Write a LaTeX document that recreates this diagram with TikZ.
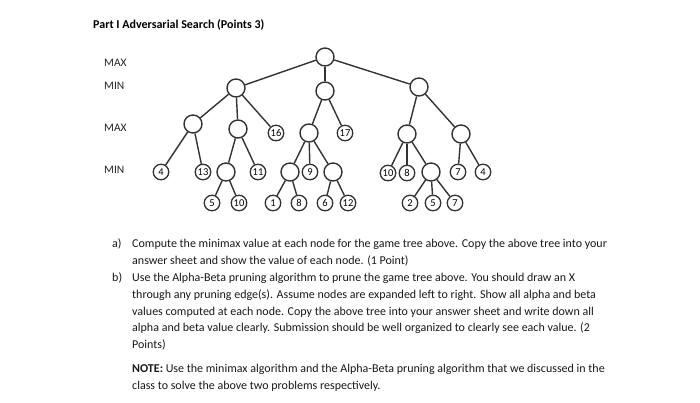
\documentclass[tikz,border=0pt]{standalone}
\usepackage{fontspec}
\setmainfont{Carlito}
\begin{document}
\begin{tikzpicture}[x=1pt,y=-1pt,
  every node/.style={inner sep=0pt},
  emptynode/.style={circle,draw=black!80,line width=1.4pt,minimum size=18pt,fill=white},
  leafnode/.style={circle,draw=black!80,line width=1.3pt,minimum size=15.5pt,font=\fontsize{10.5}{10}\selectfont,fill=white},
  edge/.style={draw=black!80,line width=1.4pt},
  lvl/.style={anchor=west,font=\fontsize{11.5}{12}\selectfont,text=black!85},
  txt/.style={anchor=base west,font=\fontsize{12}{14}\selectfont,text=black!90}]
\useasboundingbox[fill=white] (0,0) rectangle (700,402);
\node[anchor=base west,font=\bfseries\fontsize{12}{14}\selectfont] (title) at (93,28) {Part I Adversarial Search (Points 3)};
\node[lvl] (l1) at (104,63) {MAX};
\node[lvl] (l2) at (104,86) {MIN};
\node[lvl] (l3) at (104,128) {MAX};
\node[lvl] (l4) at (104,170) {MIN};
% tree
\node[emptynode] (r) at (325,57) {};
\node[emptynode] (m1) at (236,88) {};
\node[emptynode] (m2) at (325,91) {};
\node[emptynode] (m3) at (419,87) {};
\node[emptynode] (a1) at (193,124) {};
\node[emptynode] (a2) at (238,129) {};
\node[leafnode] (a3) at (276,133) {16};
\node[emptynode] (a4) at (309,133) {};
\node[leafnode] (a5) at (345,133) {17};
\node[emptynode] (a6) at (407,134) {};
\node[emptynode] (a7) at (461,134) {};
\node[leafnode] (b1) at (161,172) {4};
\node[leafnode] (b2) at (203,172) {13};
\node[emptynode] (b3) at (226,172) {};
\node[leafnode] (b4) at (258,172) {11};
\node[emptynode] (b5) at (290,172) {};
\node[leafnode] (b6) at (310,172) {9};
\node[emptynode] (b7) at (333,172) {};
\node[leafnode] (b8) at (388,173) {10};
\node[leafnode] (b9) at (407,173) {8};
\node[emptynode] (b10) at (431,172) {};
\node[leafnode] (b11) at (458,172) {7};
\node[leafnode] (b12) at (483,172) {4};
\node[leafnode] (c1) at (212,203) {5};
\node[leafnode] (c2) at (239,203) {10};
\node[leafnode] (c3) at (273,203) {1};
\node[leafnode] (c4) at (299,203) {8};
\node[leafnode] (c5) at (325,203) {6};
\node[leafnode] (c6) at (348,203) {12};
\node[leafnode] (c7) at (410,203) {2};
\node[leafnode] (c8) at (433,203) {5};
\node[leafnode] (c9) at (455,203) {7};
\foreach \p/\c in {r/m1,r/m2,r/m3,m1/a1,m1/a2,m1/a3,m2/a4,m2/a5,m3/a6,m3/a7,
  a1/b1,a1/b2,a2/b3,a2/b4,a4/b5,a4/b6,a4/b7,a6/b8,a6/b9,a6/b10,a7/b11,a7/b12,
  b3/c1,b3/c2,b5/c3,b5/c4,b7/c5,b7/c6,b10/c7,b10/c8,b10/c9}
  \draw[edge] (\p) -- (\c);
% text
\node[txt] (qa) at (112,247) {a)};
\node[txt] (t1) at (132,247) {Compute the minimax value at each node for the game tree above. Copy the above tree into your};
\node[txt] (t2) at (132,264) {answer sheet and show the value of each node. (1 Point)};
\node[txt] (qb) at (112,281) {b)};
\node[txt] (t3) at (132,281) {Use the Alpha-Beta pruning algorithm to prune the game tree above. You should draw an X};
\node[txt] (t4) at (132,298) {through any pruning edge(s). Assume nodes are expanded left to right. Show all alpha and beta};
\node[txt] (t5) at (132,315) {values computed at each node. Copy the above tree into your answer sheet and write down all};
\node[txt] (t6) at (132,331) {alpha and beta value clearly. Submission should be well organized to clearly see each value. (2};
\node[txt] (t7) at (132,348) {Points)};
\node[txt] (t8) at (132,372) {\textbf{NOTE:} Use the minimax algorithm and the Alpha-Beta pruning algorithm that we discussed in the};
\node[txt] (t9) at (132,389) {class to solve the above two problems respectively.};
\end{tikzpicture}
\end{document}
